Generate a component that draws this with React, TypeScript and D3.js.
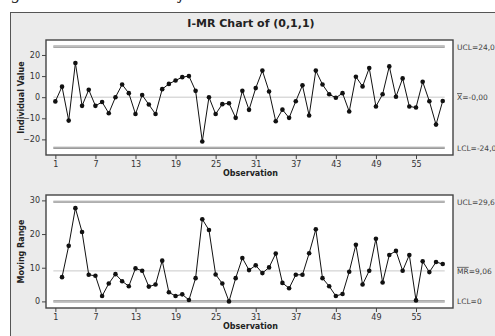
import React, { useEffect, useRef } from 'react';
import * as d3 from 'd3';

// individual values, observation 1..59
const individual = [
  -2, 5, -11.1, 16.2, -4.1, 3.5, -4.1, -2.3, -7.6, 0,
  6, 1.9, -8, 1, -3.5, -8, 3.8, 6.3, 7.9, 9.5,
  10, 3, -21, 0, -8, -3.3, -2.9, -9.8, 3, -6,
  4.3, 12.6, 2.7, -11.4, -5.9, -9.8, -1.9, 5.6, -8.7, 12.6,
  6, 1.4, -0.3, 1.9, -6.8, 9.7, 5.1, 13.8, -4.4, 1.4,
  14.6, 0.2, 8.9, -4.4, -4.9, 7.3, -1.9, -13, -1.8,
];
// moving ranges, observation 2..59
const movingRange = [
  7.2, 16.5, 27.7, 20.6, 7.9, 7.6, 1.6, 5.3, 8.1,
  6, 4.5, 9.8, 9.1, 4.4, 5, 12.1, 2.7, 1.6, 2.1,
  0.4, 6.9, 24.4, 21.2, 8, 5.3, 0, 6.9, 12.9, 9.3,
  10.7, 8.4, 10.1, 14.2, 5.5, 3.9, 7.9, 7.9, 14.3, 21.4,
  6.9, 4.5, 1.6, 2.2, 8.8, 16.8, 5, 9.1, 18.6, 5.6,
  13.8, 15, 9.1, 13.8, 0.3, 11.9, 8.7, 11.7, 11.1,
];
const xTicks = [1, 7, 13, 19, 25, 31, 37, 43, 49, 55];
const iTicks = [-20, -10, 0, 10, 20];
const mrTicks = [0, 10, 20, 30];
const iLimits = [24, 0, -24];
const mrLimits = [29.6, 9.06, 0];

const font = 'DejaVu Sans, Verdana, sans-serif';

function App() {
  const ref = useRef<SVGSVGElement>(null);

  useEffect(() => {
    const svg = d3.select(ref.current);
    svg.selectAll('*').remove();

    // caption line above the figure, mostly cropped away
    svg.append('text')
      .attr('x', -3).attr('y', -1.5)
      .attr('font-family', 'Liberation Serif, serif')
      .attr('font-style', 'italic')
      .attr('font-size', 17)
      .attr('fill', '#222')
      .text('Fig. 6. Carta de controle ajustada dos resíduos do modelo');

    // gray panel
    svg.append('rect')
      .attr('x', 10.5).attr('y', 12.5)
      .attr('width', 500).attr('height', 340)
      .attr('fill', '#ebebeb')
      .attr('stroke', '#555')
      .attr('stroke-width', 1);

    svg.append('text')
      .attr('x', 251).attr('y', 27)
      .attr('text-anchor', 'middle')
      .attr('font-family', font)
      .attr('font-weight', 'bold')
      .attr('font-size', 11)
      .attr('fill', '#222')
      .text('I-MR Chart of (0,1,1)');

    const left = 46, right = 453;
    const x = d3.scaleLinear().domain([-0.4, 60.54]).range([left, right]);

    function panel(opts) {
      const { top, bottom, domain, values, start, ticks, limits, ylabel, labels } = opts;
      const y = d3.scaleLinear().domain(domain).range([bottom, top]);
      const g = svg.append('g');

      g.append('rect')
        .attr('x', left).attr('y', top)
        .attr('width', right - left).attr('height', bottom - top)
        .attr('fill', '#fff');

      // control limits
      limits.forEach((v, i) => {
        const isCenter = i === 1;
        g.append('line')
          .attr('x1', x(1) - 2).attr('x2', x(59) + 2)
          .attr('y1', y(v)).attr('y2', y(v))
          .attr('stroke', isCenter ? '#c9c9c9' : '#8a8a8a')
          .attr('stroke-width', isCenter ? 1 : 2.2);
        if (!isCenter) {
          g.append('line')
            .attr('x1', x(1) - 2).attr('x2', x(59) + 2)
            .attr('y1', y(v)).attr('y2', y(v))
            .attr('stroke', '#e6e6e6')
            .attr('stroke-width', 0.6);
        }
      });

      const pts = values.map((v, i) => ({ obs: i + start, v }));
      const line = d3.line<any>().x(d => x(d.obs)).y(d => y(d.v));
      g.append('path')
        .datum(pts)
        .attr('fill', 'none')
        .attr('stroke', '#111')
        .attr('stroke-width', 1)
        .attr('d', line);
      g.selectAll('circle.pt')
        .data(pts)
        .enter()
        .append('circle')
        .attr('cx', d => x(d.obs))
        .attr('cy', d => y(d.v))
        .attr('r', 2.3)
        .attr('fill', '#111');

      // frame
      g.append('rect')
        .attr('x', left).attr('y', top)
        .attr('width', right - left).attr('height', bottom - top)
        .attr('fill', 'none')
        .attr('stroke', '#444')
        .attr('stroke-width', 1.4);

      const yAxis = g.append('g')
        .attr('transform', `translate(${left},0)`)
        .call(d3.axisLeft(y).tickValues(ticks).tickSize(4).tickSizeOuter(0));
      const xAxis = g.append('g')
        .attr('transform', `translate(0,${bottom})`)
        .call(d3.axisBottom(x).tickValues(xTicks).tickSize(4).tickSizeOuter(0));
      [yAxis, xAxis].forEach(a => {
        a.select('.domain').remove();
        a.selectAll('line').attr('stroke', '#444');
        a.selectAll('text')
          .attr('font-family', font)
          .attr('font-size', 8)
          .attr('fill', '#333');
      });
      yAxis.selectAll('text').attr('x', -6);
      xAxis.selectAll('text').attr('y', 6);

      g.append('text')
        .attr('transform', `translate(24,${(top + bottom) / 2}) rotate(-90)`)
        .attr('text-anchor', 'middle')
        .attr('font-family', font)
        .attr('font-weight', 'bold')
        .attr('font-size', 8)
        .attr('fill', '#222')
        .text(ylabel);
      g.append('text')
        .attr('x', (left + right) / 2 + 1).attr('y', bottom + 21)
        .attr('text-anchor', 'middle')
        .attr('font-family', font)
        .attr('font-weight', 'bold')
        .attr('font-size', 8)
        .attr('fill', '#222')
        .text('Observation');

      // limit labels on the right
      labels.forEach((lab, i) => {
        const t = g.append('text')
          .attr('x', 457).attr('y', y(limits[i]) + 3)
          .attr('font-family', font)
          .attr('font-size', 7.5)
          .attr('fill', '#444');
        if (lab.bar) {
          t.append('tspan').style('text-decoration', 'overline').text(lab.bar);
        }
        t.append('tspan').text(lab.text);
      });
    }

    panel({
      top: 40, bottom: 155, domain: [-27.4, 27.1],
      values: individual, start: 1, ticks: iTicks, limits: iLimits,
      ylabel: 'Individual Value',
      labels: [{ text: 'UCL=24,0' }, { bar: 'X', text: '=-0,00' }, { text: 'LCL=-24,0' }],
    });
    panel({
      top: 195, bottom: 308, domain: [-1.96, 31.6],
      values: movingRange, start: 2, ticks: mrTicks, limits: mrLimits,
      ylabel: 'Moving Range',
      labels: [{ text: 'UCL=29,6' }, { bar: 'MR', text: '=9,06' }, { text: 'LCL=0' }],
    });
  }, []);

  return (
    <svg ref={ref} width={495} height={336}
      style={{ position: 'absolute', left: 0, top: 0, background: '#fff' }} />
  );
}

export default App;
